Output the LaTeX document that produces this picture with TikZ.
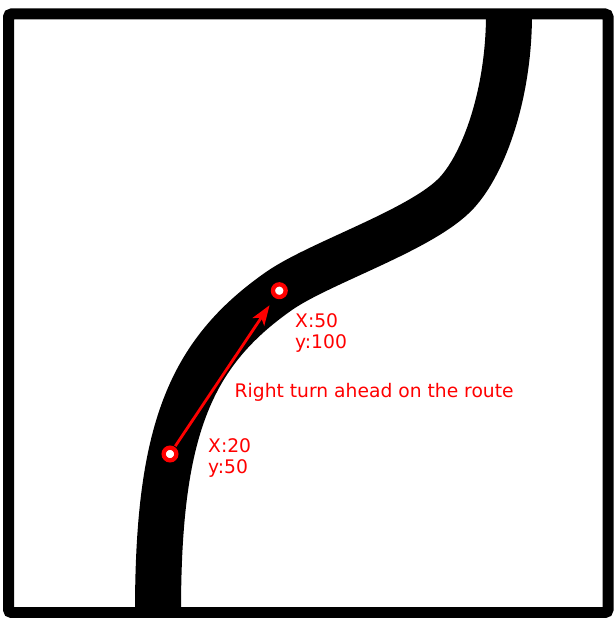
\documentclass[tikz,border=0pt]{standalone}
\usepackage{fontspec}
\setmainfont{DejaVu Sans}
\usetikzlibrary{arrows.meta}
\definecolor{routered}{RGB}{255,0,0}
\begin{document}
\begin{tikzpicture}[x=1pt,y=-1pt,
  road/.style={line width=46pt, black},
  framebox/.style={line width=11pt, black, rounded corners=3pt},
  ptmark/.style={circle, draw=routered, fill=white, line width=4.3pt, minimum size=12.7pt, inner sep=0pt},
  lbl/.style={text=routered, font=\fontsize{18.7}{21}\selectfont, inner sep=0pt, align=left},
  movearrow/.style={draw=routered, line width=2.8pt, -{Stealth[length=20pt,width=14pt,inset=5pt]}}
]
\useasboundingbox (0,0) rectangle (615,618);
\draw[road] (158,612) .. controls (158,432) and (189,354) .. (279,291)
  .. controls (320,262.4) and (423.3,229.4) .. (457,192.5)
  .. controls (484,163) and (509,94) .. (509,14);
\draw[framebox] (8.5,14) rectangle (608,612.5);
\node[ptmark] (start) at (170,454) {};
\node[ptmark] (target) at (279.3,290.7) {};
\draw[movearrow, shorten >=9pt, shorten <=1pt] (start) -- (target);
\node[lbl, anchor=north west] (targetlbl) at (295,313.4) {X:50\\y:100};
\node[lbl, anchor=base west] (note) at (234.5,397) {Right turn ahead on the route};
\node[lbl, anchor=north west] (startlbl) at (208,438.4) {X:20\\y:50};
\end{tikzpicture}
\end{document}
